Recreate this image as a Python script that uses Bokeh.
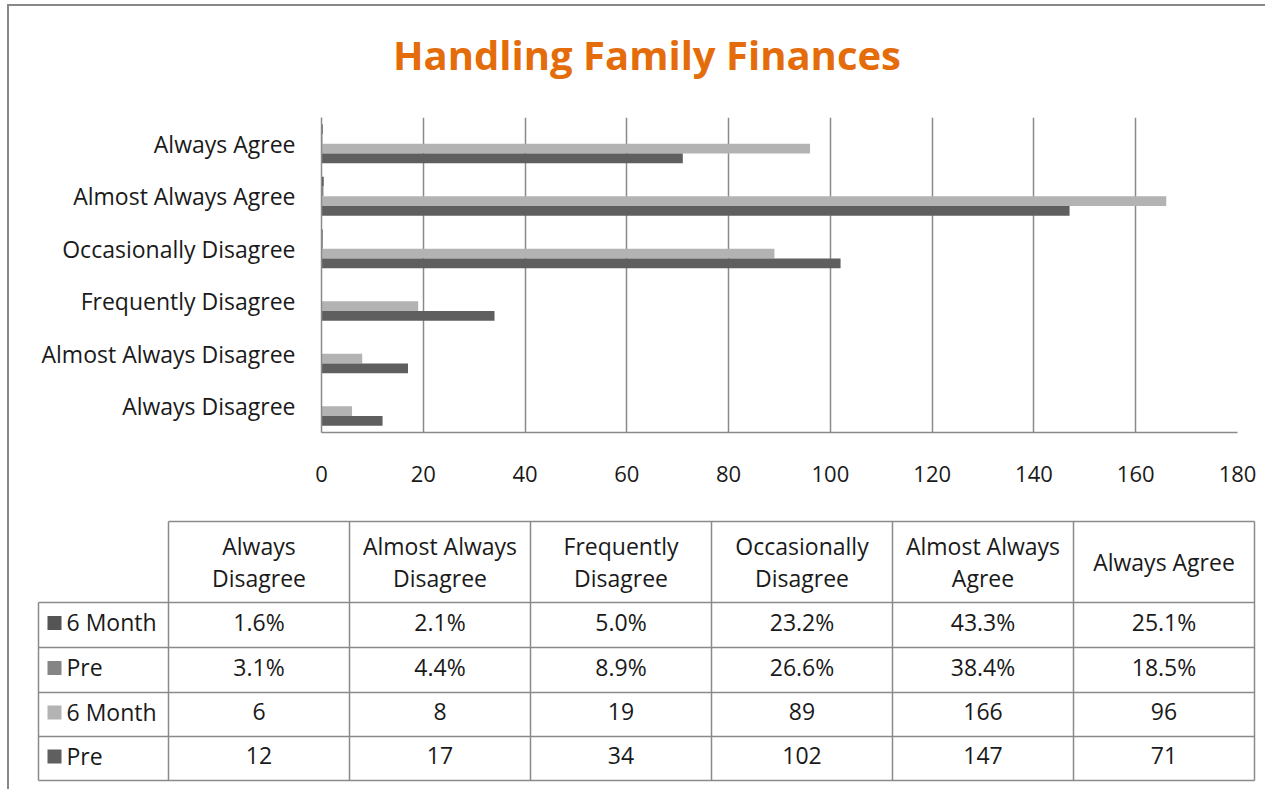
from bokeh.plotting import figure
from bokeh.models import FactorRange, Range1d, FixedTicker, ColumnDataSource
from bokeh.transform import dodge
from bokeh.layouts import column
from bokeh.core.properties import value
from bokeh.embed import file_html
from bokeh.resources import INLINE

# ---------------- data ----------------
categories = ["Always Disagree", "Almost Always Disagree", "Frequently Disagree",
              "Occasionally Disagree", "Almost Always Agree", "Always Agree"]
header_labels = ["Always\nDisagree", "Almost Always\nDisagree", "Frequently\nDisagree",
                 "Occasionally\nDisagree", "Almost Always\nAgree", "Always Agree"]
series_names = ["6 Month", "Pre", "6 Month", "Pre"]
pct_6month = [1.6, 2.1, 5.0, 23.2, 43.3, 25.1]
pct_pre = [3.1, 4.4, 8.9, 26.6, 38.4, 18.5]
count_6month = [6, 8, 19, 89, 166, 96]
count_pre = [12, 17, 34, 102, 147, 71]
x_ticks = [0, 20, 40, 60, 80, 100, 120, 140, 160, 180]
title_text = "Handling Family Finances"

colors = ["#555555", "#858585", "#b3b3b3", "#5f5f5f"]
FONT = "Open Sans"
GRID = "#8a8a8a"
TXT = "#1a1a1a"
FS = "23px"
W = 1256
OX, OY0 = 9, 6  # page offset of the layout's first canvas

def blank_fig(h):
    f = figure(width=W, height=h, x_range=Range1d(0, W), y_range=Range1d(h, 0),
               output_backend="svg", toolbar_location=None, min_border=0)
    f.frame_align = False
    f.axis.visible = False
    f.grid.grid_line_color = None
    f.outline_line_color = None
    f.border_fill_color = "white"
    return f

# ---------------- title ----------------
HT = 92
tt = blank_fig(HT)
tt.text(x=[646.5 - OX], y=[54 - OY0], text=[title_text], text_font=value(FONT),
        text_font_style="bold", text_font_size="40px", text_color="#E46C0A",
        text_align="center", text_baseline="middle")

# ---------------- chart ----------------
src = ColumnDataSource(dict(
    cat=categories,
    p6=[v / 100 for v in pct_6month],
    pp=[v / 100 for v in pct_pre],
    c6=count_6month,
    cp=count_pre,
))

top_chart = OY0 + HT
p = figure(width=W, height=505 - top_chart, y_range=FactorRange(factors=categories, range_padding=0),
           x_range=Range1d(0, 180), output_backend="svg", toolbar_location=None,
           min_border_left=312, min_border_right=28, min_border_top=117 - top_chart,
           min_border_bottom=73)
p.frame_align = False
p.outline_line_color = None
p.background_fill_color = "white"
p.border_fill_color = "white"

bh = 0.185
for col, off, c in [("p6", 1.5 * bh, colors[0]), ("pp", 0.5 * bh, colors[1]),
                    ("c6", -0.5 * bh, colors[2]), ("cp", -1.5 * bh, colors[3])]:
    p.hbar(y=dodge("cat", off, range=p.y_range), right=col, left=0, height=bh,
           source=src, fill_color=c, line_color=None)

p.xaxis.ticker = FixedTicker(ticks=x_ticks)
p.xaxis.major_tick_line_color = None
p.xaxis.minor_tick_line_color = None
p.xaxis.axis_line_color = GRID
p.xaxis.axis_line_width = 1.5
p.xaxis.major_label_text_font = FONT
p.xaxis.major_label_text_font_size = "22px"
p.xaxis.major_label_text_color = TXT
p.xaxis.major_label_standoff = 27

p.yaxis.major_tick_line_color = None
p.yaxis.minor_tick_line_color = None
p.yaxis.axis_line_color = GRID
p.yaxis.axis_line_width = 1.5
p.yaxis.major_label_text_font = FONT
p.yaxis.major_label_text_font_size = FS
p.yaxis.major_label_text_color = TXT
p.yaxis.major_label_standoff = 20

p.ygrid.grid_line_color = None
p.xgrid.ticker = FixedTicker(ticks=x_ticks)
p.xgrid.grid_line_color = GRID
p.xgrid.grid_line_width = 1.5

# ---------------- table ----------------
H2 = 284
t = blank_fig(H2)
OY = 505
def X(v): return v - OX
def Y(v): return v - OY

col_edges = [168, 349, 530, 711, 892, 1073, 1254]
label_left = 38
row_edges = [602, 647, 692, 736, 780]
head_top = 521

x0s, y0s, x1s, y1s = [], [], [], []
x0s.append(X(col_edges[0])); x1s.append(X(col_edges[-1])); y0s.append(Y(head_top)); y1s.append(Y(head_top))
for r in row_edges:
    x0s.append(X(label_left)); x1s.append(X(col_edges[-1])); y0s.append(Y(r)); y1s.append(Y(r))
x0s.append(X(label_left)); x1s.append(X(label_left)); y0s.append(Y(row_edges[0])); y1s.append(Y(row_edges[-1]))
for cx in col_edges:
    x0s.append(X(cx)); x1s.append(X(cx)); y0s.append(Y(head_top)); y1s.append(Y(row_edges[-1]))
t.segment(x0=x0s, y0=y0s, x1=x1s, y1=y1s, line_color=GRID, line_width=1.5)

centers = [X((col_edges[i] + col_edges[i + 1]) / 2) for i in range(len(categories))]
t.text(x=centers, y=[Y((head_top + row_edges[0]) / 2)] * len(centers), text=header_labels,
       text_font=value(FONT), text_font_size=FS, text_color=TXT,
       text_align="center", text_baseline="middle", text_line_height=1.02)

rows = [[f"{v:.1f}%" for v in pct_6month],
        [f"{v:.1f}%" for v in pct_pre],
        [str(v) for v in count_6month],
        [str(v) for v in count_pre]]
for i, vals in enumerate(rows):
    yc = Y((row_edges[i] + row_edges[i + 1]) / 2) - 3
    t.text(x=centers, y=[yc] * len(vals), text=vals, text_font=value(FONT),
           text_font_size=FS, text_color=TXT, text_align="center", text_baseline="middle")
    t.rect(x=[X(54)], y=[yc + 1], width=14, height=14, fill_color=colors[i], line_color=None)
    t.text(x=[X(66)], y=[yc], text=[series_names[i]], text_font=value(FONT),
           text_font_size=FS, text_color=TXT, text_align="left", text_baseline="middle")

layout = column(tt, p, t, spacing=0,
                styles={"margin-left": "7px", "margin-top": "4px",
                        "border-left": "2px solid #888888", "border-top": "2px solid #888888"})

open("out.html", "w").write(file_html(layout, INLINE))
